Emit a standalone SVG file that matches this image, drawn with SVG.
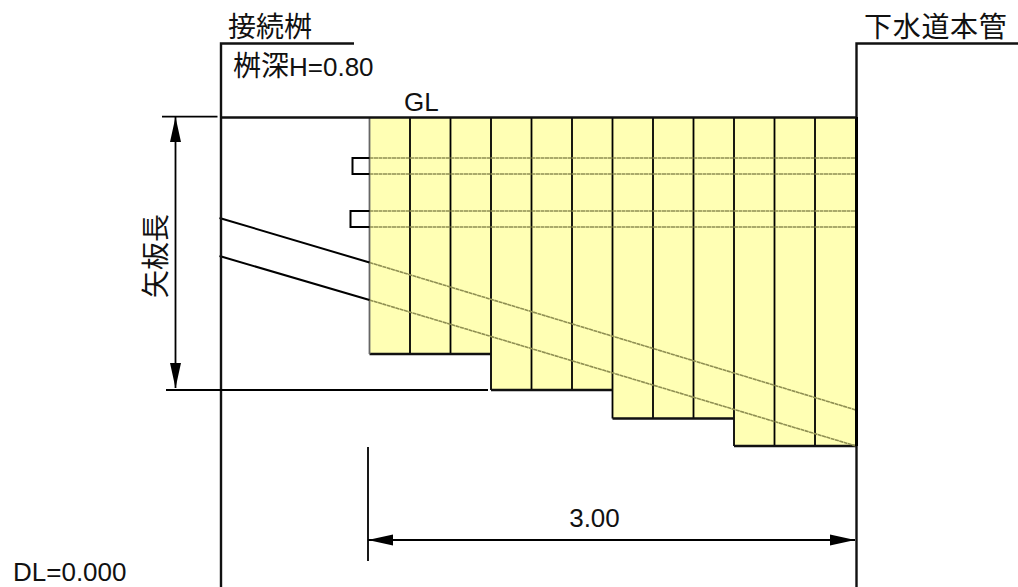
<svg xmlns="http://www.w3.org/2000/svg" width="1018" height="587" viewBox="0 0 1018 587">
<style>
text{font-family:"Noto Sans CJK JP","Liberation Sans",sans-serif;fill:#111}
.n{font-family:"Liberation Sans",sans-serif;font-size:26px}
.j{font-size:28px}
.l{fill:none;stroke:#000;stroke-width:2}
.t{fill:none;stroke:#000;stroke-width:1.8}
.w{fill:none;stroke:#111;stroke-width:2.4}
.o{fill:none;stroke:#8f8f52;stroke-width:1.600;stroke-dasharray:4 .5}
</style>
<defs>
<marker id="ah" markerUnits="userSpaceOnUse" markerWidth="26" markerHeight="12" refX="25" refY="6" orient="auto-start-reverse"><path d="M0 .5L25 6L0 11.500Z" fill="#000"/></marker>
</defs>
<rect width="1018" height="587" fill="#fff"/>
<g id="sheet-piles">
<path d="M369.500 117H856V446H734V418.500H612.500V390H491V354H369.500Z" fill="#ffffb4"/>
<path class="t" d="M410 117V354M450.500 117V354M491 117V390M531.500 117V390M572 117V390M612.500 117V418.500M653 117V418.500M693.500 117V418.500M734 117V446M774.500 117V446M815 117V446"/>
<path class="w" d="M369.500 354H491M491 390H612.500M612.500 418.500H734M734 446H857"/>
<path d="M369.500 117V354" stroke="#666" stroke-width="1.800" fill="none"/>
</g>
<g id="connectors">
<path class="o" d="M369.500 158H856M369.500 174H856M369.500 211H856M369.500 227H856M369.500 262.500L856 410M369.500 300L856 446"/>
<path class="l" d="M219.500 218L369.500 262.500M219.500 256L369.500 300"/>
<path class="l" d="M369.500 158H352.500V174H369.500M369.500 211H350.500V227H369.500"/>
<path class="w" d="M221 587V43.500H354M856.500 587V43.500H1018"/>
<path d="M856.500 117V446" stroke="#000" stroke-width="3" fill="none"/>
<path class="w" d="M221 117.500H856"/>
<path class="t" d="M162 116.700H217.500M166 390H488M368 447V561"/>
<path class="t" d="M175.500 117V388" marker-start="url(#ah)" marker-end="url(#ah)"/>
<path class="t" d="M368 540H855" marker-start="url(#ah)" marker-end="url(#ah)"/>
</g>
<g id="labels">
<text class="j" x="228" y="37">接続桝</text>
<text class="j" x="864" y="37" letter-spacing=".7">下水道本管</text>
<text class="j" x="233" y="76">桝深<tspan class="n">H=0.80</tspan></text>
<text class="n" x="404" y="111">GL</text>
<text class="n" x="594.500" y="527" text-anchor="middle">3.00</text>
<text class="n" x="13" y="581">DL=0.000</text>
<text class="j" transform="translate(165.500 298) rotate(-90)">矢板長</text>
</g>
</svg>
